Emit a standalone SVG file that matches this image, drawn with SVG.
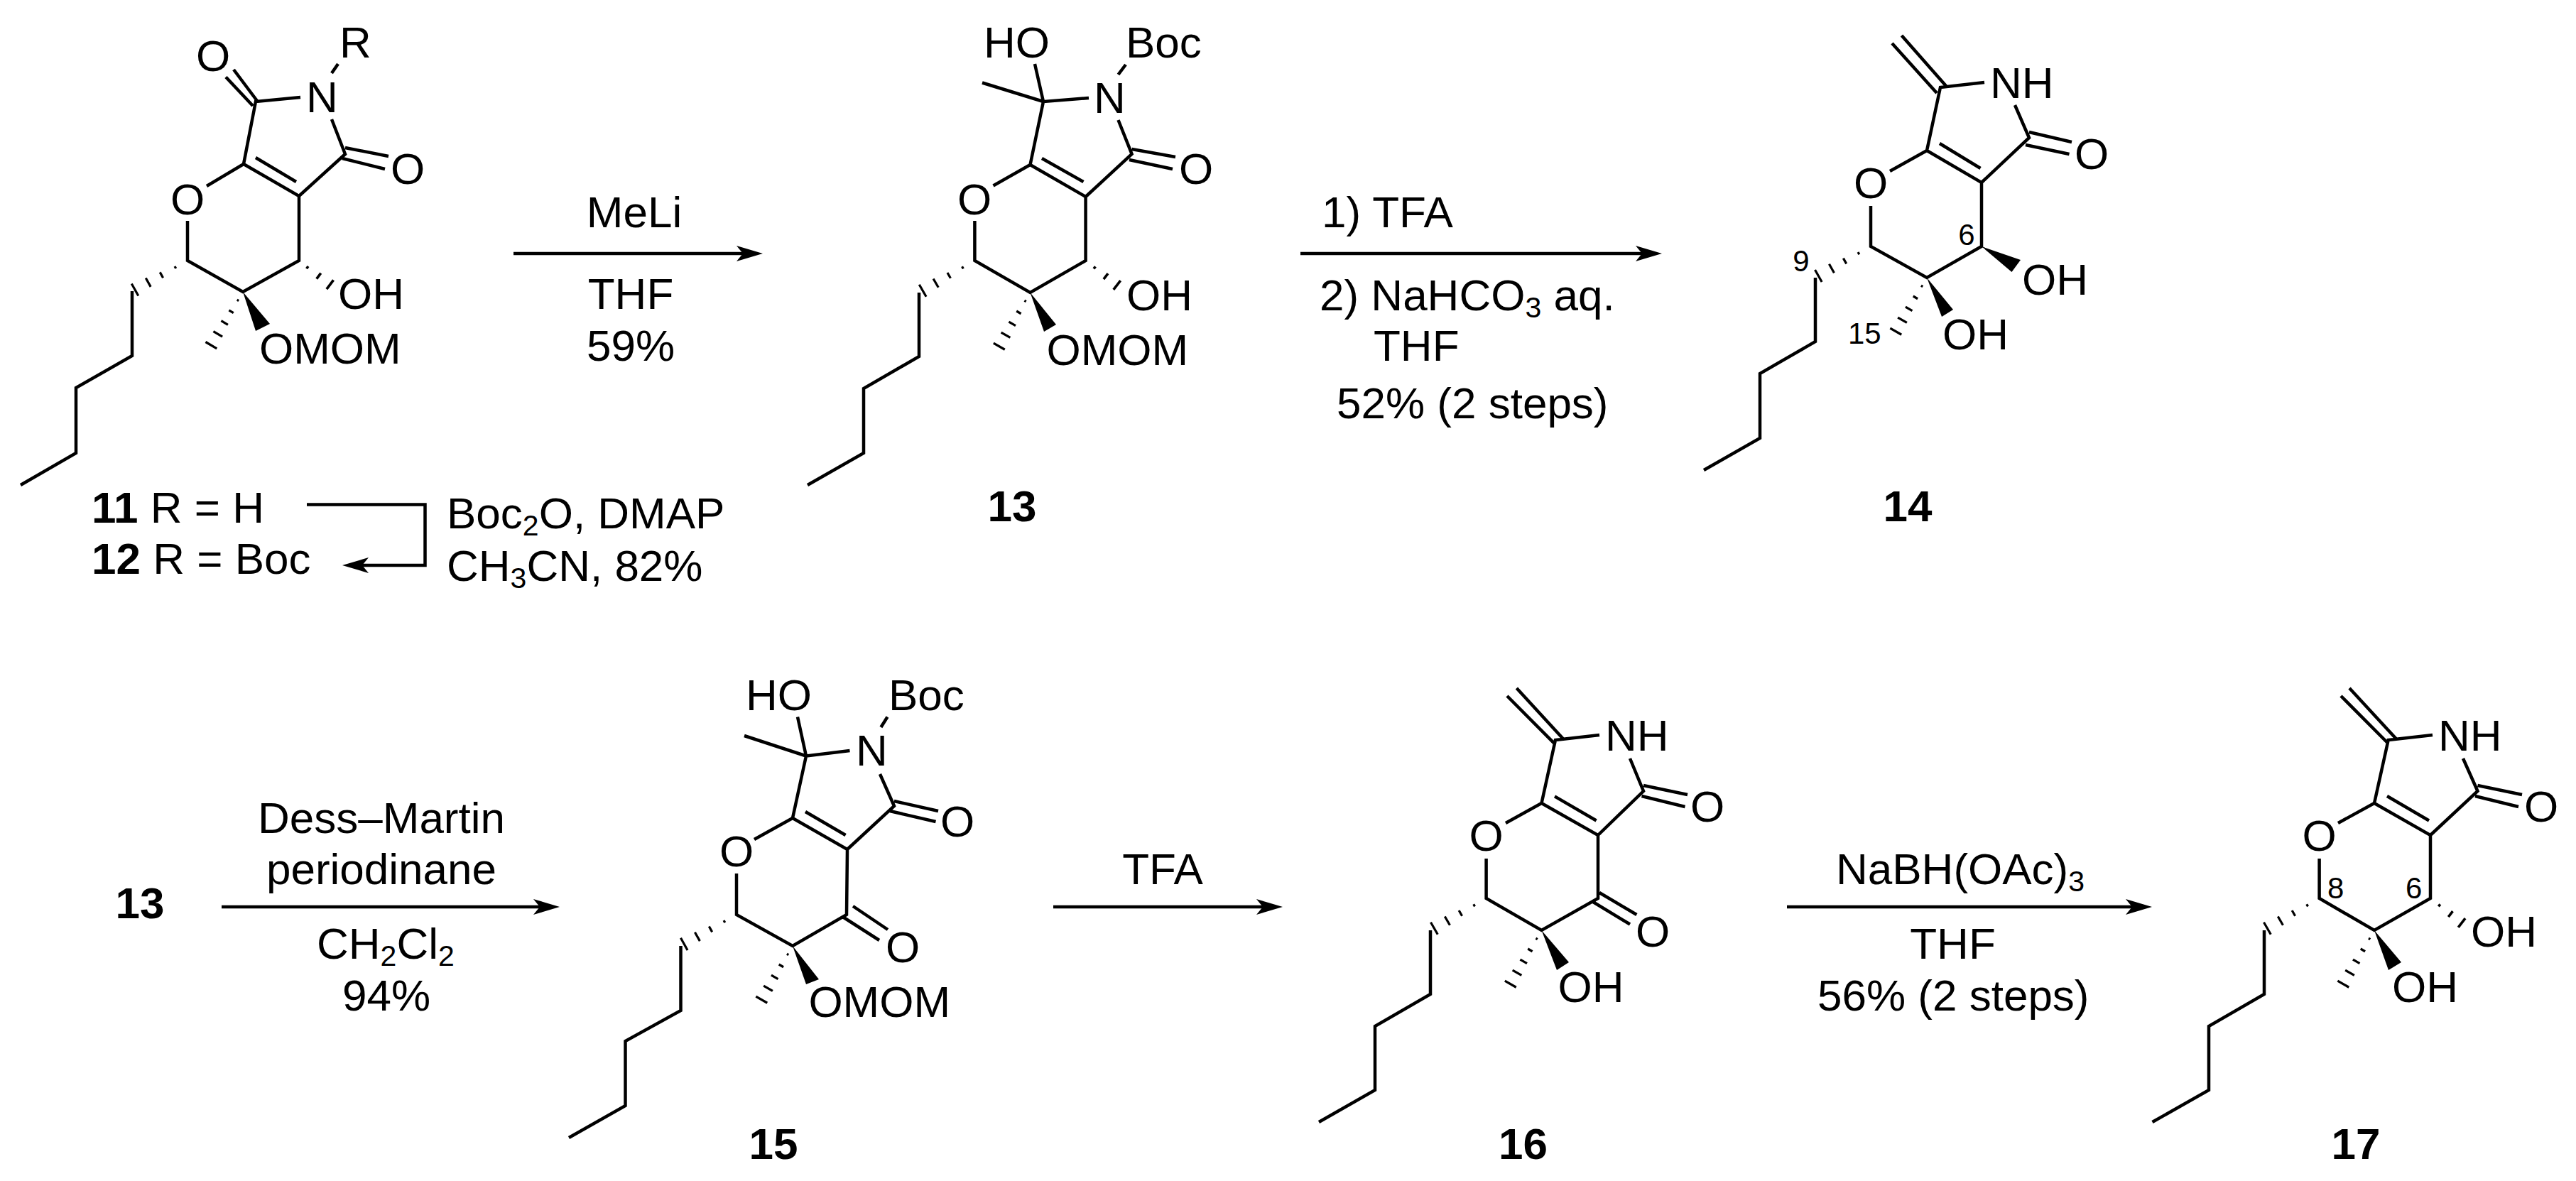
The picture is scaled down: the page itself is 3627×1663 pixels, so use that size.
<svg xmlns="http://www.w3.org/2000/svg" width="3627" height="1663" viewBox="0 0 3627 1663">
<style>
text{font-family:"Liberation Sans",Arial,sans-serif;font-size:62px;fill:#000}
.c{text-anchor:middle}
.b{font-weight:bold}
.n{font-size:42px}
.s{font-size:41px}
path.k,.k path{fill:none;stroke:#000;stroke-width:4.5;stroke-linejoin:miter;stroke-linecap:butt}
.h line{stroke:#000;stroke-width:3.6}
.a{fill:none;stroke:#000;stroke-width:4.5;marker-end:url(#head)}
</style>
<defs>
<marker id="head" markerUnits="userSpaceOnUse" markerWidth="38" markerHeight="22" refX="27" refY="11" orient="auto" overflow="visible"><path d="M37 11L0 0L9 11L0 22Z" fill="#000"/></marker>
<g id="h5" class="h"><line x1="15" y1="-1.5" x2="15" y2="1.5"/><line x1="35" y1="-4" x2="35" y2="4"/><line x1="55" y1="-6" x2="55" y2="6"/><line x1="75" y1="-8" x2="75" y2="8"/><line x1="95" y1="-10" x2="95" y2="10"/></g>
<g id="h4" class="h"><line x1="22" y1="-2" x2="22" y2="2"/><line x1="47" y1="-5" x2="47" y2="5"/><line x1="71" y1="-8" x2="71" y2="8"/><line x1="95" y1="-11" x2="95" y2="11"/></g>
<g id="h3" class="h"><line x1="16" y1="-2" x2="16" y2="2"/><line x1="36" y1="-5" x2="36" y2="5"/><line x1="56" y1="-8" x2="56" y2="8"/></g>
</defs>
<g id="connectors">
<line class="a" x1="723" y1="357" x2="1064" y2="357"/>
<line class="a" x1="1831" y1="357" x2="2330" y2="357"/>
<line class="a" x1="312" y1="1277" x2="778" y2="1277"/>
<line class="a" x1="1483" y1="1277" x2="1796" y2="1277"/>
<line class="a" x1="2516" y1="1277" x2="3020" y2="1277"/>
<path class="a" d="M432 710.4H598.5V796H492"/>
</g>
<g id="m11">
<path class="k" d="M343 231L421 276V367L342 411L264 367V311M291 262L343 231L360 143L423 137M467 168L486 217L421 276M362 142L329 98M356 149L318 108.5M486 208L547 220M482 223L542 238M360 222L417 256M467 103L476 90M264 367M186 410V501L107 546V638L29 683"/>
<use href="#h4" transform="translate(264,367) rotate(151) scale(.89)"/>
<use href="#h5" transform="translate(342,411) rotate(120.7) scale(.92)"/>
<use href="#h3" transform="translate(420,367) rotate(37)"/>
<path d="M342 411L360 466L380 456Z"/>
<text class="c" x="300" y="100">O</text><text class="c" x="574" y="259">O</text><text class="c" x="264" y="302">O</text>
<text x="431" y="158">N</text><text x="478" y="80.5">R</text><text x="476" y="435">OH</text><text x="365" y="512">OMOM</text>
<text x="129" y="736"><tspan class="b">11</tspan> R = H</text><text x="129" y="808"><tspan class="b">12</tspan> R = Boc</text>
</g>
<g id="r1"><text class="c" x="893" y="320">MeLi</text><text class="c" x="888" y="435">THF</text><text class="c" x="888" y="508">59%</text></g>
<g id="r2"><text x="629" y="744">Boc<tspan class="s" dy="10">2</tspan><tspan dy="-10">O, DMAP</tspan></text><text x="629" y="818">CH<tspan class="s" dy="10">3</tspan><tspan dy="-10">CN, 82%</tspan></text></g>
<g id="m13">
<path class="k" d="M1450.5 232L1528.6 277V367L1450.5 412L1372.4 367V311M1398.5 261.5L1450.5 232L1469 143L1533 138M1574.5 169L1593.6 217L1528.6 277M1469 143L1457 90M1469 143L1383 116.5M1593.6 210L1655 221M1590 225L1651 238M1467 223L1525.5 256M1574.5 105L1585 91M1294 412V502L1216 547V638L1137 683"/>
<use href="#h4" transform="translate(1372.4,367) rotate(150) scale(.89)"/>
<use href="#h5" transform="translate(1450.5,412) rotate(120) scale(.92)"/>
<use href="#h3" transform="translate(1528.6,367) rotate(38)"/>
<path d="M1450.5 412L1470 467L1487 457Z"/>
<text class="c" x="1372" y="302">O</text><text class="c" x="1684" y="259">O</text>
<text x="1540" y="159">N</text><text x="1585" y="80.5">Boc</text><text x="1385" y="80.5">HO</text><text x="1586" y="437">OH</text><text x="1473.5" y="513.5">OMOM</text>
<text class="c b" x="1425" y="734">13</text>
</g>
<g id="r3"><text x="1861" y="320">1) TFA</text><text x="1858" y="437">2) NaHCO<tspan class="s" dy="10">3</tspan><tspan dy="-10"> aq.</tspan></text><text x="1934" y="508">THF</text><text x="1882" y="589">52% (2 steps)</text></g>
<g id="m14">
<path class="k" d="M2713 212L2790 257V347L2713 391L2634 347V290M2661 241L2713 212L2732 123L2794 116M2837 148L2857 194L2790 257M2857 186L2917 200M2852 204L2913.5 217M2731 202L2788.5 237M2740 121L2677.5 50M2727 131L2664 61M2556 391V481L2478 526V617L2399 662"/>
<use href="#h4" transform="translate(2634,347) rotate(150.6) scale(.89)"/>
<use href="#h5" transform="translate(2713,391) rotate(120) scale(.92)"/>
<path d="M2713 391L2734 446L2750 436Z"/><path d="M2790 347L2832.5 383L2845 366Z"/>
<text class="c" x="2634" y="279">O</text><text class="c" x="2945" y="238">O</text>
<text x="2802" y="138">NH</text><text x="2847" y="414.5">OH</text><text x="2735" y="492">OH</text>
<text class="c n" x="2769" y="345">6</text><text class="c n" x="2536" y="382">9</text><text class="n" x="2602" y="484">15</text>
<text class="c b" x="2686" y="734">14</text>
</g>
<g id="m13b"><text class="c b" x="197" y="1293">13</text></g>
<g id="r4"><text class="c" x="537" y="1172.5">Dess–Martin</text><text class="c" x="537" y="1244.5">periodinane</text><text x="446" y="1350">CH<tspan class="s" dy="10">2</tspan><tspan dy="-10">Cl</tspan><tspan class="s" dy="10">2</tspan></text><text class="c" x="544" y="1423">94%</text></g>
<g id="m15">
<path class="k" d="M1116 1152L1193 1196L1192 1288L1116 1332L1037 1288V1230M1062 1182L1116 1152L1135 1064.5L1196.5 1057M1239 1090L1259 1135L1193 1196M1135 1064.5L1123 1009.5M1135 1064.5L1048 1036M1259 1128L1321 1142M1253 1142L1317.5 1157M1134 1143L1190.6 1176M1240.4 1024L1249.5 1009.5M1201 1276L1250 1309M1186.5 1291L1238 1324M958.5 1332V1423L880.5 1466V1557L801 1602"/>
<use href="#h4" transform="translate(1037,1288) rotate(150.7) scale(.89)"/>
<use href="#h5" transform="translate(1116,1332) rotate(120) scale(.92)"/>
<path d="M1116 1332L1135 1386L1153 1379Z"/>
<text class="c" x="1037" y="1220">O</text><text class="c" x="1348" y="1178">O</text><text class="c" x="1271" y="1355">O</text>
<text x="1205" y="1077.6">N</text><text x="1251" y="1000">Boc</text><text x="1050" y="1000">HO</text><text x="1138.4" y="1432">OMOM</text>
<text class="c b" x="1089" y="1632">15</text>
</g>
<g id="r5"><text class="c" x="1637" y="1244.5">TFA</text></g>
<g id="m16">
<path class="k" d="M2170.5 1131L2250 1176V1265L2170.5 1310L2092.6 1265V1209M2120 1159L2170.5 1131L2190 1042L2252 1035M2295 1068L2314 1114L2250 1176M2314 1106L2376 1119M2311.5 1121L2372.5 1136M2189 1121.4L2247.6 1155.5M2200.6 1040L2135.4 969M2189 1047.4L2122 980M2252 1257L2304.4 1288M2243 1270L2295 1301.5M2014 1310V1400L1936 1445V1535L1857 1580"/>
<use href="#h4" transform="translate(2092.6,1265) rotate(150) scale(.89)"/>
<use href="#h5" transform="translate(2170.5,1310) rotate(120) scale(.92)"/>
<path d="M2170.5 1310L2192 1366L2209 1355Z"/>
<text class="c" x="2092.6" y="1198">O</text><text class="c" x="2404" y="1157">O</text><text class="c" x="2327" y="1333">O</text>
<text x="2260" y="1057">NH</text><text x="2193.6" y="1411">OH</text>
<text class="c b" x="2144.5" y="1632">16</text>
</g>
<g id="r6"><text x="2585" y="1244.5">NaBH(OAc)<tspan class="s" dy="10">3</tspan></text><text class="c" x="2749.5" y="1350">THF</text><text x="2559" y="1423">56% (2 steps)</text></g>
<g id="m17">
<path class="k" d="M3343 1131L3422 1176V1265L3343 1310L3265.6 1265V1209M3292 1159L3343 1131L3362.7 1042L3425 1035M3468 1068L3488.5 1114L3422 1176M3488.5 1106L3551 1119M3485 1121L3546 1136M3361 1121L3420 1155.5M3373.5 1040L3308 969M3362.7 1047L3296 980M3188 1310V1400L3110 1445V1535L3030.5 1580"/>
<use href="#h4" transform="translate(3265.6,1265) rotate(150) scale(.89)"/>
<use href="#h5" transform="translate(3343,1310) rotate(120) scale(.92)"/>
<use href="#h3" transform="translate(3422,1265) rotate(38)"/>
<path d="M3343 1310L3363 1366L3381 1355Z"/>
<text class="c" x="3265.6" y="1198">O</text><text class="c" x="3578" y="1157">O</text>
<text x="3433" y="1057">NH</text><text x="3479" y="1333">OH</text><text x="3368" y="1411">OH</text>
<text class="c n" x="3288.6" y="1265">8</text><text class="c n" x="3398.6" y="1265">6</text>
<text class="c b" x="3317" y="1632">17</text>
</g>
</svg>
